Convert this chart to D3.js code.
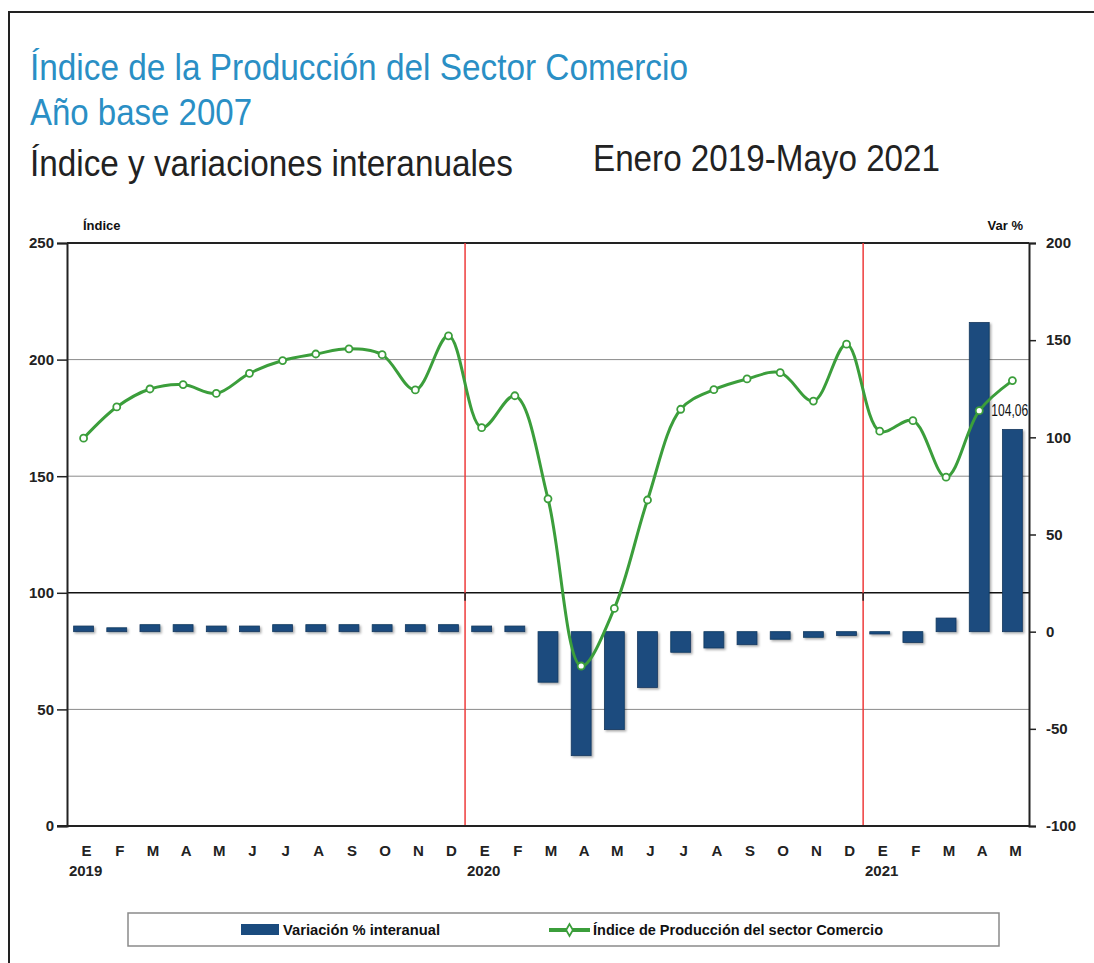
<!DOCTYPE html>
<html lang="es">
<head>
<meta charset="UTF-8">
<title>Índice de la Producción del Sector Comercio</title>
<script src="https://cdn.jsdelivr.net/npm/d3@7"></script>
<style>
  body { margin: 0; background: #fff; }
  svg text { font-family: "Liberation Sans Narrow", "Arial Narrow", "Liberation Sans", Arial, sans-serif; }
</style>
</head>
<body>
<div id="container"></div>
<script>
// months Jan 2019 - May 2021
const meses = ['E','F','M','A','M','J','J','A','S','O','N','D',
               'E','F','M','A','M','J','J','A','S','O','N','D',
               'E','F','M','A','M']
const anios = [{ idx: 0, label: '2019' }, { idx: 12, label: '2020' }, { idx: 24, label: '2021' }]

// Índice de Producción del sector Comercio (left axis)
const indice = [166.3, 179.7, 187.4, 189.3, 185.5, 194.1, 199.6, 202.4, 204.6, 202.1, 187.0, 210.2,
                170.8, 184.5, 140.3, 68.6, 93.3, 139.8, 178.7, 187.1, 191.7, 194.4, 182.2, 206.6,
                169.3, 173.8, 149.6, 178.1, 191.0]

// Variación % interanual (right axis)
const variacion = [2.9, 2.0, 3.6, 3.6, 2.9, 2.9, 3.6, 3.6, 3.6, 3.6, 3.6, 3.6,
                   2.9, 2.9, -26.0, -63.8, -50.4, -28.7, -10.6, -8.4, -6.7, -3.9, -2.9, -2.0,
                   -1.2, -5.6, 7.0, 159.1, 104.06]

const leftTicks = [0, 50, 100, 150, 200, 250]
const rightTicks = [-100, -50, 0, 50, 100, 150, 200]
const etiqueta = { idx: 27, text: '104,06' }

const width = 1094
const height = 963
const marginLeft = 67
const marginRight = 65
const marginTop = 243
const marginBottom = 137

const blue = '#1a4b7e'
const green = '#3b9e3b'

const svg = d3.create('svg')
  .attr('width', width)
  .attr('height', height)
  .attr('viewBox', [0, 0, width, height])

// drop shadow for bars
const defs = svg.append('defs')
defs.append('filter').attr('id', 'shadow')
  .attr('x', '-20%').attr('y', '-20%').attr('width', '140%').attr('height', '140%')
  .append('feDropShadow')
  .attr('dx', 1.5).attr('dy', 1.5).attr('stdDeviation', 1)
  .attr('flood-color', '#000').attr('flood-opacity', 0.35)

// outer frame
svg.append('path')
  .attr('d', `M9,${height + 5} V12 H${width + 5}`)
  .attr('fill', 'none')
  .attr('stroke', '#222')
  .attr('stroke-width', 2)

// titles
const titles = [
  { text: 'Índice de la Producción del Sector Comercio', x: 30, y: 80, len: 658, color: '#2a8fc5' },
  { text: 'Año base 2007', x: 30, y: 125, len: 222, color: '#2a8fc5' },
  { text: 'Índice y variaciones interanuales', x: 30, y: 176, len: 483, color: '#222' },
  { text: 'Enero 2019-Mayo 2021', x: 593, y: 171, len: 347, color: '#222' }
]
svg.append('g').selectAll('text')
  .data(titles)
  .join('text')
  .attr('x', d => d.x)
  .attr('y', d => d.y)
  .attr('fill', d => d.color)
  .attr('font-size', 36)
  .attr('textLength', d => d.len)
  .attr('lengthAdjust', 'spacingAndGlyphs')
  .text(d => d.text)

const x = d3.scaleBand()
  .domain(d3.range(meses.length))
  .range([marginLeft, width - marginRight])
  .paddingInner(0.4)
  .paddingOuter(0.2)

const step = x.step()
const xLeft = marginLeft
const xRight = width - marginRight

const yL = d3.scaleLinear()
  .domain([0, 250])
  .range([height - marginBottom, marginTop])

const yR = d3.scaleLinear()
  .domain([-100, 200])
  .range([height - marginBottom, marginTop])

// gridlines
svg.append('g')
  .selectAll('line')
  .data([50, 150, 200])
  .join('line')
  .attr('x1', xLeft).attr('x2', xRight)
  .attr('y1', d => yL(d)).attr('y2', d => yL(d))
  .attr('stroke', '#8a8a8a')
  .attr('stroke-width', 1)

svg.append('line')
  .attr('x1', xLeft).attr('x2', xRight)
  .attr('y1', yL(100)).attr('y2', yL(100))
  .attr('stroke', '#111')
  .attr('stroke-width', 1.5)

svg.append('line')
  .attr('x1', xLeft).attr('x2', xRight)
  .attr('y1', yL(250)).attr('y2', yL(250))
  .attr('stroke', '#222')
  .attr('stroke-width', 2)

// year separators
const sepX = anios.filter(a => a.idx > 0).map(a => xLeft + a.idx * step)
svg.append('g')
  .selectAll('line')
  .data(sepX)
  .join('line')
  .attr('x1', d => d).attr('x2', d => d)
  .attr('y1', yL(250)).attr('y2', yL(0))
  .attr('stroke', '#ee3b3b')
  .attr('stroke-width', 1.5)

svg.append('g')
  .selectAll('line')
  .data(sepX)
  .join('line')
  .attr('x1', d => d).attr('x2', d => d)
  .attr('y1', yL(100)).attr('y2', yL(100) + 8)
  .attr('stroke', '#222')
  .attr('stroke-width', 1.5)

// bars
svg.append('g')
  .attr('fill', blue)
  .attr('filter', 'url(#shadow)')
  .selectAll('rect')
  .data(variacion)
  .join('rect')
  .attr('x', (d, i) => x(i))
  .attr('width', x.bandwidth())
  .attr('y', d => yR(Math.max(0, d)))
  .attr('height', d => Math.abs(yR(d) - yR(0)))
  .attr('stroke', '#14395f')
  .attr('stroke-width', 0.8)

// index line
const line = d3.line()
  .x((d, i) => x(i) + x.bandwidth() / 2)
  .y(d => yL(d))
  .curve(d3.curveCatmullRom)

svg.append('path')
  .datum(indice)
  .attr('fill', 'none')
  .attr('stroke', green)
  .attr('stroke-width', 3)
  .attr('d', line)

svg.append('g')
  .selectAll('circle')
  .data(indice)
  .join('circle')
  .attr('cx', (d, i) => x(i) + x.bandwidth() / 2)
  .attr('cy', d => yL(d))
  .attr('r', 3.5)
  .attr('fill', '#fff')
  .attr('stroke', green)
  .attr('stroke-width', 1.8)

svg.append('text')
  .attr('x', x(etiqueta.idx) + x.bandwidth() / 2 + 12)
  .attr('y', yL(indice[etiqueta.idx]) + 5)
  .attr('font-size', 16)
  .attr('fill', '#111')
  .attr('textLength', 37)
  .attr('lengthAdjust', 'spacingAndGlyphs')
  .text(etiqueta.text)

// axes
const fmt = d => String(d)
const axisL = svg.append('g')
  .attr('transform', `translate(${xLeft},0)`)
  .call(d3.axisLeft(yL).tickValues(leftTicks).tickSize(10).tickPadding(3).tickFormat(fmt))
const axisR = svg.append('g')
  .attr('transform', `translate(${xRight},0)`)
  .call(d3.axisRight(yR).tickValues(rightTicks).tickSize(7).tickPadding(10).tickFormat(fmt))

for (const ax of [axisL, axisR]) {
  ax.select('.domain').attr('stroke', '#222').attr('stroke-width', 2)
  ax.selectAll('.tick line').attr('stroke', '#222').attr('stroke-width', 1.5)
  ax.selectAll('.tick text')
    .attr('font-family', '"Liberation Sans Narrow", "Arial Narrow", "Liberation Sans", Arial, sans-serif')
    .attr('font-size', 15)
    .attr('font-weight', 'bold')
    .attr('fill', '#222')
}

svg.append('line')
  .attr('x1', xLeft - 10).attr('x2', xRight)
  .attr('y1', yL(0)).attr('y2', yL(0))
  .attr('stroke', '#222')
  .attr('stroke-width', 2)

// axis titles
svg.append('text')
  .attr('x', 83).attr('y', 230)
  .attr('font-size', 13).attr('font-weight', 'bold').attr('fill', '#111')
  .text('Índice')
svg.append('text')
  .attr('x', 1023).attr('y', 230)
  .attr('text-anchor', 'end')
  .attr('font-size', 13).attr('font-weight', 'bold').attr('fill', '#111')
  .text('Var %')

// month labels
svg.append('g')
  .selectAll('text')
  .data(meses)
  .join('text')
  .attr('x', (d, i) => x(i) + x.bandwidth() / 2 + 3)
  .attr('y', yL(0) + 30)
  .attr('text-anchor', 'middle')
  .attr('font-size', 15)
  .attr('font-weight', 'bold')
  .attr('fill', '#222')
  .text(d => d)

svg.append('g')
  .selectAll('text')
  .data(anios)
  .join('text')
  .attr('x', d => x(d.idx) + x.bandwidth() / 2 + 2)
  .attr('y', yL(0) + 50)
  .attr('text-anchor', 'middle')
  .attr('font-size', 15)
  .attr('font-weight', 'bold')
  .attr('fill', '#222')
  .text(d => d.label)

// legend
const legend = svg.append('g')
legend.append('rect')
  .attr('x', 128).attr('y', 913)
  .attr('width', 871).attr('height', 33)
  .attr('fill', '#fff')
  .attr('stroke', '#8a8a8a')
  .attr('stroke-width', 1.5)
legend.append('rect')
  .attr('x', 241).attr('y', 924)
  .attr('width', 38).attr('height', 11)
  .attr('fill', blue)
legend.append('text')
  .attr('x', 283).attr('y', 935)
  .attr('font-size', 14).attr('font-weight', 'bold').attr('fill', '#111')
  .attr('textLength', 157).attr('lengthAdjust', 'spacingAndGlyphs')
  .text('Variación % interanual')
legend.append('line')
  .attr('x1', 549).attr('x2', 590)
  .attr('y1', 930).attr('y2', 930)
  .attr('stroke', green).attr('stroke-width', 4)
legend.append('path')
  .attr('transform', 'translate(569.5,930)')
  .attr('d', d3.symbol(d3.symbolDiamond, 40)())
  .attr('fill', '#fff')
  .attr('stroke', green)
  .attr('stroke-width', 1.8)
legend.append('text')
  .attr('x', 593).attr('y', 935)
  .attr('font-size', 14).attr('font-weight', 'bold').attr('fill', '#111')
  .attr('textLength', 290).attr('lengthAdjust', 'spacingAndGlyphs')
  .text('Índice de Producción del sector Comercio')

document.getElementById('container').append(svg.node())
</script>
</body>
</html>
